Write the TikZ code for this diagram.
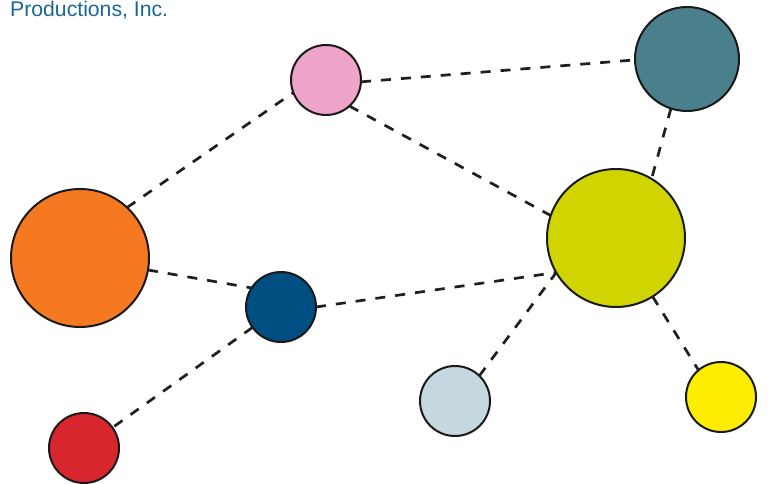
\documentclass[tikz,border=0pt]{standalone}
\usepackage{fontspec}
\setmainfont{Liberation Sans}
\definecolor{cpink}{RGB}{238,164,200}
\definecolor{cteal}{RGB}{74,128,140}
\definecolor{corange}{RGB}{244,121,32}
\definecolor{cnavy}{RGB}{0,79,130}
\definecolor{clime}{RGB}{208,212,0}
\definecolor{clight}{RGB}{197,215,223}
\definecolor{cyellow}{RGB}{255,237,0}
\definecolor{cred}{RGB}{215,38,45}
\definecolor{ctitle}{RGB}{25,104,146}
\begin{document}
\begin{tikzpicture}[x=1pt,y=-1pt,
  ball/.style={circle,draw=black!90,line width=2pt,inner sep=0pt,outer sep=0pt,minimum size=#1},
  link/.style={line width=2.7pt,draw=black!88,dash pattern=on 10pt off 10pt}]
  \useasboundingbox (0,0) rectangle (768,484);
  \node[anchor=base west,text=ctitle,font=\fontsize{21.2}{24}\selectfont,inner sep=0pt] (title) at (10,17) {Productions, Inc.};
  % circles
  \node[ball=70pt,fill=cpink]   (pink)   at (326,80)  {};
  \node[ball=104pt,fill=cteal]  (teal)   at (687,59)  {};
  \node[ball=138pt,fill=corange](orange) at (80,258)  {};
  \node[ball=70pt,fill=cnavy]   (navy)   at (281,307) {};
  \node[ball=138pt,fill=clime]  (lime)   at (616,238) {};
  \node[ball=70pt,fill=clight]  (light)  at (455,401) {};
  \node[ball=70pt,fill=cyellow] (yellow) at (721,397) {};
  \node[ball=70pt,fill=cred]    (red)    at (84,448)  {};
  % dashed links between the circles
  \draw[link] (orange.47) -- (pink.201);
  \draw[link] (pink.-3) -- (teal.181);
  \draw[link] (pink.-48) -- (lime.161);
  \draw[link] (teal.-108) -- (lime.59);
  \draw[link] (orange.-10) -- (navy.147);
  \draw[link] (navy.east) -- (lime.210);
  \draw[link] (navy) -- (red);
  \draw[link] (light.46) -- (lime.210);
  \draw[link] (lime.-58) -- (yellow.130);
\end{tikzpicture}
\end{document}
